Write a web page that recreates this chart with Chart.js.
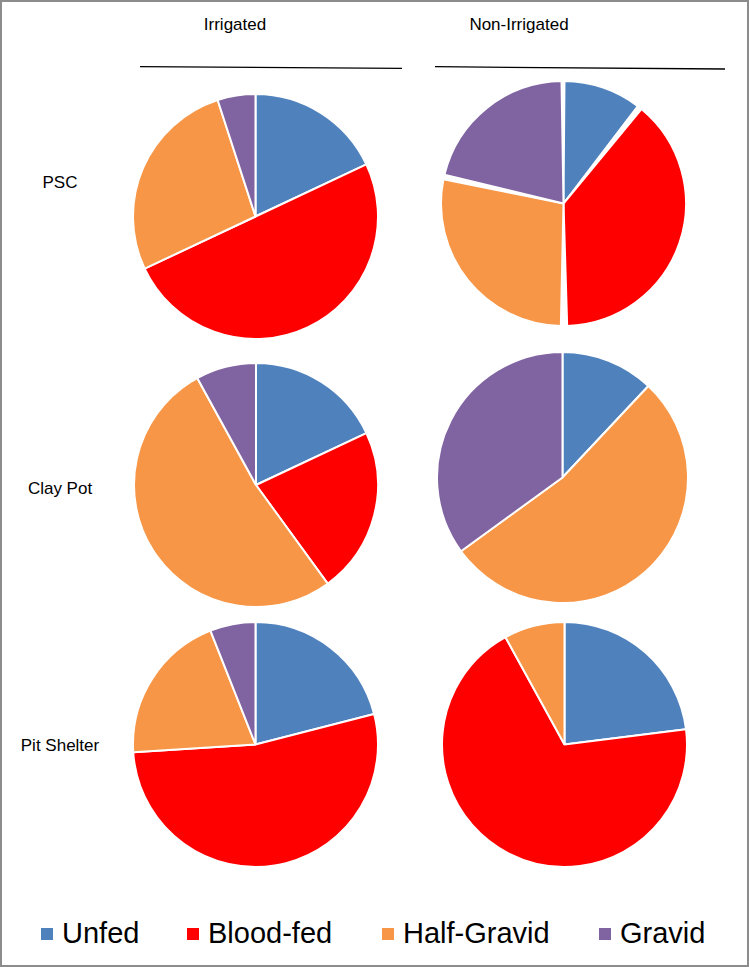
<!DOCTYPE html>
<html>
<head>
<meta charset="utf-8">
<script src="https://cdn.jsdelivr.net/npm/chart.js@4.4.1/dist/chart.umd.min.js"></script>
<style>
  html, body { margin: 0; padding: 0; background: #fff; }
  #frame { position: relative; width: 749px; height: 967px; overflow: hidden;
           font-family: "Liberation Sans", Arial, sans-serif; color: #000; }
  #edge { position: absolute; left: 0; top: 0; width: 749px; height: 967px;
          box-sizing: border-box; border: 2px solid #8c8c8c; pointer-events: none; }
  .lbl { position: absolute; white-space: nowrap; font-size: 17px; line-height: 17px;
         transform: translateX(-50%); }
  .pie { position: absolute; }
  .leg { position: absolute; top: 919px; display: flex; align-items: center;
         font-size: 29px; line-height: 29px; white-space: nowrap; }
  .leg i { display: inline-block; width: 12px; height: 12px; margin-right: 9px; }
  svg { position: absolute; left: 0; top: 0; }
</style>
</head>
<body>
<div id="frame">
  <svg width="749" height="100">
    <line x1="140" y1="66.7" x2="402" y2="68.3" stroke="#000" stroke-width="1.3"/>
    <line x1="435" y1="66.7" x2="725" y2="69" stroke="#000" stroke-width="1.3"/>
  </svg>
  <div id="edge"></div>
</div>
<script>
// legend categories and colours
const categories = ['Unfed', 'Blood-fed', 'Half-Gravid', 'Gravid'];
const colors = ['#4F81BD', '#FF0000', '#F79646', '#8064A2'];

const columns = ['Irrigated', 'Non-Irrigated'];
const rows = ['PSC', 'Clay Pot', 'Pit Shelter'];

// % of each stage (Unfed, Blood-fed, Half-Gravid, Gravid)
const irrigatedPSC = [18, 50, 27, 5];
const nonIrrigatedPSC = [10.5, 39.5, 28.5, 21.5];
const irrigatedClayPot = [18, 22, 52, 8];
const nonIrrigatedClayPot = [12, 0, 53, 35];
const irrigatedPitShelter = [21, 53, 20, 6];
const nonIrrigatedPitShelter = [23, 69, 8, 0];

const frame = document.getElementById('frame');

// where things go on the page
const colX = [235, 519];
const rowLabelX = 60;
const rowLabelTop = [174, 480, 737];
const legendX = [41, 187, 382, 599];

const pies = [
  { data: irrigatedPSC, cx: 255.5, cy: 216, r: 122.5, gap: 0 },
  { data: nonIrrigatedPSC, cx: 563.5, cy: 203.5, r: 121, gap: 3 },
  { data: irrigatedClayPot, cx: 255.5, cy: 485, r: 122, gap: 0 },
  { data: nonIrrigatedClayPot, cx: 562, cy: 477.5, r: 125.5, gap: 0 },
  { data: irrigatedPitShelter, cx: 255.5, cy: 744, r: 122.5, gap: 0 },
  { data: nonIrrigatedPitShelter, cx: 564, cy: 744.5, r: 122.5, gap: 0 },
];

function addText(txt, x, y) {
  const d = document.createElement('div');
  d.className = 'lbl';
  d.textContent = txt;
  d.style.left = x + 'px';
  d.style.top = y + 'px';
  frame.appendChild(d);
}

columns.forEach((c, i) => addText(c, colX[i], 16));
rows.forEach((r, i) => addText(r, rowLabelX, rowLabelTop[i]));

categories.forEach((c, i) => {
  const d = document.createElement('div');
  d.className = 'leg';
  d.style.left = legendX[i] + 'px';
  d.innerHTML = `<i style="background:${colors[i]}"></i><span>${c}</span>`;
  frame.appendChild(d);
});

pies.forEach((p, i) => {
  const size = Math.round(2 * p.r + 2 + p.gap);
  const box = document.createElement('div');
  box.className = 'pie';
  box.style.left = (p.cx - size / 2) + 'px';
  box.style.top = (p.cy - size / 2) + 'px';
  const cv = document.createElement('canvas');
  cv.width = size;
  cv.height = size;
  box.appendChild(cv);
  frame.appendChild(box);

  new Chart(cv, {
    type: 'pie',
    data: {
      labels: categories,
      datasets: [{
        data: p.data,
        backgroundColor: colors,
        borderColor: '#fff',
        borderWidth: 2,
        spacing: p.gap
      }]
    },
    options: {
      responsive: false,
      animation: false,
      layout: { padding: 0 },
      plugins: { legend: { display: false }, tooltip: { enabled: false } }
    }
  });
});
</script>
</body>
</html>
